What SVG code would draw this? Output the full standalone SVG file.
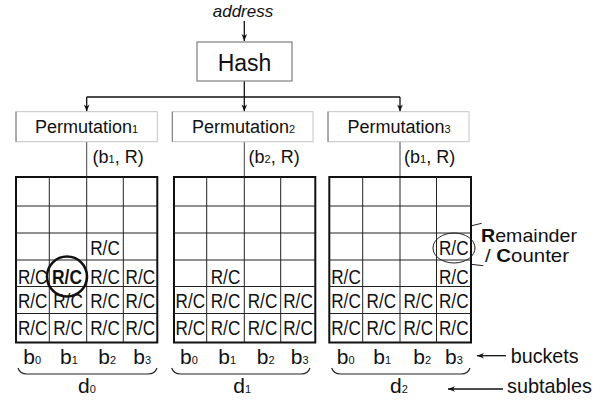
<svg xmlns="http://www.w3.org/2000/svg" width="604" height="403" viewBox="0 0 604 403">
  <style>
    text { font-family: "Liberation Sans", Arial, sans-serif; fill: #111; }
    .rc { font-size: 21px; text-anchor: middle; }
    .rcb { font-size: 21px; text-anchor: middle; font-weight: bold; }
    .perm { font-size: 18px; }
    .sub { font-size: 11px; }
    .lbl { font-size: 18px; }
    .bk { font-size: 21px; }
    .side { font-size: 21px; }
    .note { font-size: 18.5px; }
    .outer { fill: #fff; stroke: #111; stroke-width: 2; }
    .inner { stroke: #222; stroke-width: 1; fill: none; }
    .conn { stroke: #111; stroke-width: 1.3; fill: none; }
    .feed { stroke: #444; stroke-width: 1; fill: none; }
    .pbox { fill: #fff; stroke: #c4c4c4; stroke-width: 1; }
    .pedge { stroke: #777; stroke-width: 1; }
    .brace { stroke: #222; stroke-width: 1.2; fill: none; }
  </style>
  <defs>
    <marker id="tip" viewBox="0 0 10 10" refX="10" refY="5" markerWidth="9" markerHeight="7" markerUnits="userSpaceOnUse" orient="auto">
      <path d="M0,1 L10,5 L0,9 L3,5 Z" fill="#111"/>
    </marker>
  </defs>
  <rect width="604" height="403" fill="#fff"/>

  <!-- connectors: address -> hash -> permutations -> subtables -->
  <g id="connectors">
    <line class="conn" x1="244.3" y1="21" x2="244.3" y2="41" marker-end="url(#tip)"/>
    <line class="conn" x1="244.3" y1="81" x2="244.3" y2="97"/>
    <line class="conn" x1="86.7" y1="97" x2="400" y2="97"/>
    <line class="conn" x1="86.7" y1="97" x2="86.7" y2="111.5" marker-end="url(#tip)"/>
    <line class="conn" x1="244.3" y1="97" x2="244.3" y2="111.5" marker-end="url(#tip)"/>
    <line class="conn" x1="400" y1="97" x2="400" y2="111.5" marker-end="url(#tip)"/>
    <line class="feed" x1="86.7" y1="141.7" x2="86.7" y2="177"/>
    <line class="feed" x1="244.3" y1="141.7" x2="244.3" y2="177"/>
    <line class="feed" x1="400" y1="141.7" x2="400" y2="177"/>
    <!-- legend arrows -->
    <line class="conn" x1="506" y1="355.7" x2="477" y2="355.7" marker-end="url(#tip)"/>
    <line class="conn" x1="503" y1="389" x2="448" y2="389" marker-end="url(#tip)"/>
    <!-- leader lines to the remainder/counter note -->
    <line class="inner" x1="446.7" y1="231.7" x2="481.7" y2="223.3"/>
    <line class="inner" x1="456.7" y1="262.7" x2="483.3" y2="265.7"/>
  </g>

  <g id="address">
    <text x="243" y="16.5" font-size="17" font-style="italic" text-anchor="middle">address</text>
  </g>

  <g id="hash">
    <rect x="197" y="42" width="95" height="39" fill="#fff" stroke="#888" stroke-width="1.3"/>
    <text x="244.5" y="70.7" font-size="23" text-anchor="middle">Hash</text>
  </g>

  <g id="permutation1">
    <rect class="pbox" x="16" y="111.7" width="141.3" height="30"/>
    <line class="pedge" x1="16" y1="111.7" x2="16" y2="141.7"/>
    <text class="perm" x="35" y="133.3">Permutation<tspan class="sub">1</tspan></text>
    <text class="lbl" x="92.5" y="163.3">(b<tspan class="sub">1</tspan>, R)</text>
  </g>
  <g id="permutation2">
    <rect class="pbox" x="172.3" y="111.7" width="140.7" height="30"/>
    <line class="pedge" x1="172.3" y1="111.7" x2="172.3" y2="141.7"/>
    <text class="perm" x="192" y="133.3">Permutation<tspan class="sub">2</tspan></text>
    <text class="lbl" x="248.5" y="163.3">(b<tspan class="sub">2</tspan>, R)</text>
  </g>
  <g id="permutation3">
    <rect class="pbox" x="328" y="111.7" width="141" height="30"/>
    <line class="pedge" x1="328" y1="111.7" x2="328" y2="141.7"/>
    <text class="perm" x="347.5" y="133.3">Permutation<tspan class="sub">3</tspan></text>
    <text class="lbl" x="404" y="163.3">(b<tspan class="sub">1</tspan>, R)</text>
  </g>

  <!-- subtable d0 -->
  <g id="subtable0">
    <rect class="outer" x="16" y="177" width="141.3" height="165.5"/>
    <path class="inner" d="M49.3,177V342.5M86.7,177V342.5M123.3,177V342.5M16,206H157.3M16,233H157.3M16,260H157.3M16,286.5H157.3M16,313.5H157.3"/>
    <text class="rc" x="105" y="255" textLength="29.5" lengthAdjust="spacingAndGlyphs">R/C</text>
    <text class="rc" x="32.65" y="284" textLength="29.5" lengthAdjust="spacingAndGlyphs">R/C</text>
    <text class="rcb" x="67" y="284" textLength="30" lengthAdjust="spacingAndGlyphs">R/C</text>
    <text class="rc" x="105" y="284" textLength="29.5" lengthAdjust="spacingAndGlyphs">R/C</text>
    <text class="rc" x="140.3" y="284" textLength="29.5" lengthAdjust="spacingAndGlyphs">R/C</text>
    <text class="rc" x="32.65" y="307.5" textLength="29.5" lengthAdjust="spacingAndGlyphs">R/C</text>
    <text class="rc" x="68" y="307.5" textLength="29.5" lengthAdjust="spacingAndGlyphs">R/C</text>
    <text class="rc" x="105" y="307.5" textLength="29.5" lengthAdjust="spacingAndGlyphs">R/C</text>
    <text class="rc" x="140.3" y="307.5" textLength="29.5" lengthAdjust="spacingAndGlyphs">R/C</text>
    <text class="rc" x="32.65" y="335" textLength="29.5" lengthAdjust="spacingAndGlyphs">R/C</text>
    <text class="rc" x="68" y="335" textLength="29.5" lengthAdjust="spacingAndGlyphs">R/C</text>
    <text class="rc" x="105" y="335" textLength="29.5" lengthAdjust="spacingAndGlyphs">R/C</text>
    <text class="rc" x="140.3" y="335" textLength="29.5" lengthAdjust="spacingAndGlyphs">R/C</text>
    <circle cx="67" cy="276.5" r="20" fill="none" stroke="#111" stroke-width="2.6"/>
  </g>

  <!-- subtable d1 -->
  <g id="subtable1">
    <rect class="outer" x="174" y="177" width="141.3" height="165.5"/>
    <path class="inner" d="M206.7,177V342.5M244.3,177V342.5M280.7,177V342.5M174,206H315.3M174,233H315.3M174,260H315.3M174,286.5H315.3M174,313.5H315.3"/>
    <text class="rc" x="225.5" y="283.5" textLength="29.5" lengthAdjust="spacingAndGlyphs">R/C</text>
    <text class="rc" x="190.35" y="307.5" textLength="29.5" lengthAdjust="spacingAndGlyphs">R/C</text>
    <text class="rc" x="225.5" y="307.5" textLength="29.5" lengthAdjust="spacingAndGlyphs">R/C</text>
    <text class="rc" x="262.5" y="307.5" textLength="29.5" lengthAdjust="spacingAndGlyphs">R/C</text>
    <text class="rc" x="298" y="307.5" textLength="29.5" lengthAdjust="spacingAndGlyphs">R/C</text>
    <text class="rc" x="190.35" y="335" textLength="29.5" lengthAdjust="spacingAndGlyphs">R/C</text>
    <text class="rc" x="225.5" y="335" textLength="29.5" lengthAdjust="spacingAndGlyphs">R/C</text>
    <text class="rc" x="262.5" y="335" textLength="29.5" lengthAdjust="spacingAndGlyphs">R/C</text>
    <text class="rc" x="298" y="335" textLength="29.5" lengthAdjust="spacingAndGlyphs">R/C</text>
  </g>

  <!-- subtable d2 -->
  <g id="subtable2">
    <rect class="outer" x="329.3" y="177" width="141.7" height="165.5"/>
    <path class="inner" d="M362.7,177V342.5M400,177V342.5M436.5,177V342.5M329.3,206H471M329.3,233H471M329.3,260H471M329.3,286.5H471M329.3,313.5H471"/>
    <text class="rc" x="453.75" y="255" textLength="29.5" lengthAdjust="spacingAndGlyphs">R/C</text>
    <ellipse cx="454" cy="248" rx="21" ry="15" fill="none" stroke="#222" stroke-width="1"/>
    <text class="rc" x="346" y="284" textLength="29.5" lengthAdjust="spacingAndGlyphs">R/C</text>
    <text class="rc" x="453.75" y="284" textLength="29.5" lengthAdjust="spacingAndGlyphs">R/C</text>
    <text class="rc" x="346" y="307.5" textLength="29.5" lengthAdjust="spacingAndGlyphs">R/C</text>
    <text class="rc" x="381.35" y="307.5" textLength="29.5" lengthAdjust="spacingAndGlyphs">R/C</text>
    <text class="rc" x="418.25" y="307.5" textLength="29.5" lengthAdjust="spacingAndGlyphs">R/C</text>
    <text class="rc" x="453.75" y="307.5" textLength="29.5" lengthAdjust="spacingAndGlyphs">R/C</text>
    <text class="rc" x="346" y="335" textLength="29.5" lengthAdjust="spacingAndGlyphs">R/C</text>
    <text class="rc" x="381.35" y="335" textLength="29.5" lengthAdjust="spacingAndGlyphs">R/C</text>
    <text class="rc" x="418.25" y="335" textLength="29.5" lengthAdjust="spacingAndGlyphs">R/C</text>
    <text class="rc" x="453.75" y="335" textLength="29.5" lengthAdjust="spacingAndGlyphs">R/C</text>
  </g>

  <g id="note">
    <text class="note" x="481" y="241.5" textLength="96" lengthAdjust="spacingAndGlyphs"><tspan font-weight="bold">R</tspan>emainder</text>
    <text class="note" x="485" y="262" textLength="84" lengthAdjust="spacingAndGlyphs">/ <tspan font-weight="bold">C</tspan>ounter</text>
  </g>

  <!-- bucket indices -->
  <g id="buckets">
    <text class="bk" x="23.3" y="364">b<tspan class="sub">0</tspan></text>
    <text class="bk" x="60" y="364">b<tspan class="sub">1</tspan></text>
    <text class="bk" x="98.3" y="364">b<tspan class="sub">2</tspan></text>
    <text class="bk" x="133.3" y="364">b<tspan class="sub">3</tspan></text>
    <text class="bk" x="180" y="364">b<tspan class="sub">0</tspan></text>
    <text class="bk" x="218.3" y="364">b<tspan class="sub">1</tspan></text>
    <text class="bk" x="256.7" y="364">b<tspan class="sub">2</tspan></text>
    <text class="bk" x="290.7" y="364">b<tspan class="sub">3</tspan></text>
    <text class="bk" x="336.7" y="364">b<tspan class="sub">0</tspan></text>
    <text class="bk" x="373.3" y="364">b<tspan class="sub">1</tspan></text>
    <text class="bk" x="413.3" y="364">b<tspan class="sub">2</tspan></text>
    <text class="bk" x="445" y="364">b<tspan class="sub">3</tspan></text>
    <text class="side" x="510.7" y="362.5" textLength="68" lengthAdjust="spacingAndGlyphs">buckets</text>
  </g>

  <!-- subtable braces -->
  <g id="subtables">
    <path class="brace" d="M18,368 Q20,374 27,374 H148 Q155,374 157,368"/>
    <path class="brace" d="M171.7,368 Q173.7,374 180.7,374 H301 Q308,374 310,368"/>
    <path class="brace" d="M331.7,368 Q333.7,374 340.7,374 H461 Q468,374 470,368"/>
    <text class="side" x="78" y="393.3">d<tspan class="sub">0</tspan></text>
    <text class="side" x="233.3" y="393.3">d<tspan class="sub">1</tspan></text>
    <text class="side" x="390" y="393.3">d<tspan class="sub">2</tspan></text>
    <text class="side" x="507" y="393.3" textLength="85" lengthAdjust="spacingAndGlyphs">subtables</text>
  </g>
</svg>
